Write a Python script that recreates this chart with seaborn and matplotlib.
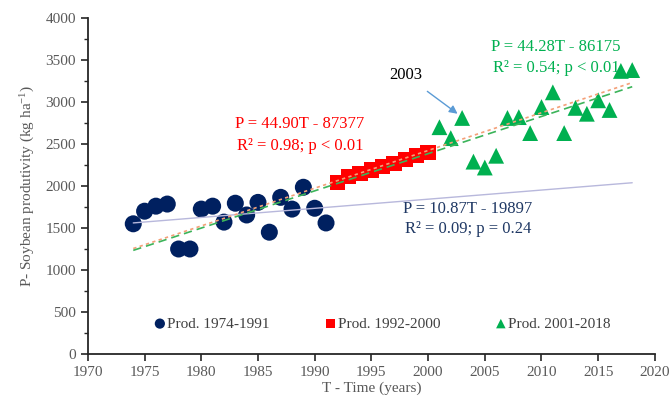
import numpy as np
import pandas as pd
import matplotlib
matplotlib.use('Agg')
import matplotlib.pyplot as plt
import seaborn as sns
from matplotlib.ticker import MultipleLocator

# data
years_1 = list(range(1974, 1992))
prod_1 = [1550, 1700, 1760, 1785, 1250, 1250, 1725, 1760, 1570, 1795, 1655, 1805,
          1450, 1865, 1725, 1985, 1735, 1560]

years_2 = list(range(1992, 2001))
prod_2 = [2045, 2110, 2150, 2190, 2230, 2270, 2320, 2360, 2400]

years_3 = list(range(2001, 2019))
prod_3 = [2700, 2570, 2810, 2290, 2220, 2360, 2810, 2820, 2630, 2940, 3115, 2630,
          2930, 2860, 3020, 2905, 3370, 3380]

# trend equations printed on the chart (slope, intercept)
fit_1 = (10.87, -19897)
fit_2 = (44.90, -87377)
fit_3 = (44.28, -86175)

labels = ['Prod. 1974-1991', 'Prod. 1992-2000', 'Prod. 2001-2018']
eq_1 = ['P = 10.87T - 19897', 'R² = 0.09; p = 0.24']
eq_2 = ['P = 44.90T - 87377', 'R² = 0.98; p < 0.01']
eq_3 = ['P = 44.28T - 86175', 'R² = 0.54; p < 0.01']

c_blue = '#002060'
c_red = '#FF0000'
c_green = '#00B050'

sns.set_style('ticks')
plt.rcParams['font.family'] = ['Liberation Serif', 'DejaVu Serif']
plt.rcParams['mathtext.fontset'] = 'custom'
plt.rcParams['mathtext.rm'] = 'Liberation Serif'
plt.rcParams['mathtext.it'] = 'Liberation Serif:italic'

fig = plt.figure(figsize=(6.71, 4.0), dpi=100)
ax = fig.add_axes([0.131, 0.115, 0.845, 0.84])

d1 = pd.DataFrame({'T': years_1, 'P': prod_1})
d2 = pd.DataFrame({'T': years_2, 'P': prod_2})
d3 = pd.DataFrame({'T': years_3, 'P': prod_3})

sns.scatterplot(data=d1, x='T', y='P', ax=ax, color=c_blue, marker='o', s=150,
                edgecolor='none', label=labels[0], zorder=2)
sns.scatterplot(data=d2, x='T', y='P', ax=ax, color=c_red, marker='s', s=120,
                edgecolor='none', label=labels[1], zorder=2)
sns.scatterplot(data=d3, x='T', y='P', ax=ax, color=c_green, marker='^', s=130,
                edgecolor='none', label=labels[2], zorder=2)

# trend lines across the whole period
tt = np.array([1974, 2018])
ax.plot(tt, fit_1[0] * tt + fit_1[1], color='#B8B8DC', lw=1.0, zorder=3)
ax.plot(tt, fit_2[0] * tt + fit_2[1], color='#F4A078', lw=1.2, ls=(0, (2, 2)), zorder=3)
ax.plot(tt, fit_3[0] * tt + fit_3[1], color='#3CB45A', lw=1.2, ls=(0, (5, 3)), zorder=3)

# equations
ax.text(2003.5, 1726, eq_1[0], color='#1F3864', fontsize=12, ha='center', va='center')
ax.text(2003.5, 1488, eq_1[1], color='#1F3864', fontsize=12, ha='center', va='center')
ax.text(1988.7, 2738, eq_2[0], color=c_red, fontsize=12, ha='center', va='center')
ax.text(1988.7, 2476, eq_2[1], color=c_red, fontsize=12, ha='center', va='center')
ax.text(2011.3, 3655, eq_3[0], color=c_green, fontsize=12, ha='center', va='center')
ax.text(2011.3, 3405, eq_3[1], color=c_green, fontsize=12, ha='center', va='center')

ax.annotate('2003', xy=(2002.6, 2860), xytext=(1998.0, 3320),
            fontsize=12, ha='center', va='center', color='black',
            arrowprops=dict(arrowstyle='-|>', color='#5B9BD5', lw=1.0,
                            shrinkA=6, shrinkB=0, mutation_scale=12))

ax.set_xlim(1970, 2020)
ax.set_ylim(0, 4000)
ax.xaxis.set_major_locator(MultipleLocator(5))
ax.yaxis.set_major_locator(MultipleLocator(500))
ax.yaxis.set_minor_locator(MultipleLocator(250))
ax.tick_params(axis='both', which='major', direction='out', length=5, width=1.2,
               colors='#262626', labelcolor='#595959', labelsize=11)
ax.tick_params(axis='y', which='minor', direction='out', length=3, width=1.0,
               colors='#262626')

for side in ['top', 'right']:
    ax.spines[side].set_visible(False)
for side in ['left', 'bottom']:
    ax.spines[side].set_color('#262626')
    ax.spines[side].set_linewidth(1.3)

ax.set_xlabel('T - Time (years)', fontsize=11, color='#595959', labelpad=2)
ax.set_ylabel('P- Soybean produtivity (kg ha$^{-1}$)', fontsize=11, color='#595959',
              labelpad=6)

leg = ax.legend(loc='center', bbox_to_anchor=(0.52, 0.09), ncol=3, frameon=False,
                handlelength=0.7, handletextpad=0.15, columnspacing=3.6,
                markerscale=0.6, fontsize=11)
for t in leg.get_texts():
    t.set_color('#404040')

fig.savefig('out.png', dpi=100)
